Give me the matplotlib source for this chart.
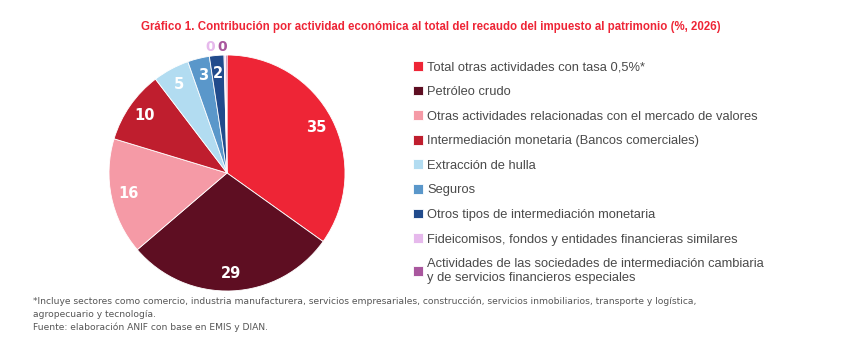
import numpy as np
import matplotlib.pyplot as plt

categories = [
    "Total otras actividades con tasa 0,5%*",
    "Petróleo crudo",
    "Otras actividades relacionadas con el mercado de valores",
    "Intermediación monetaria (Bancos comerciales)",
    "Extracción de hulla",
    "Seguros",
    "Otros tipos de intermediación monetaria",
    "Fideicomisos, fondos y entidades financieras similares",
    "Actividades de las sociedades de intermediación cambiaria\ny de servicios financieros especiales",
]
values = [35, 29, 16, 10, 5, 3, 2, 0.2, 0.2]
labels = ["35", "29", "16", "10", "5", "3", "2", "0", "0"]
colors = ["#EE2536", "#5E0E22", "#F59AA6", "#BF1E2E", "#B2DCF1",
          "#5A97CA", "#214B8C", "#E6B9EC", "#A9579E"]

W, H = 859, 350
fig = plt.figure(figsize=(W / 100, H / 100), dpi=100)

cx, cy, r = 227, 173, 118
ax = fig.add_axes([(cx - r) / W, (H - cy - r) / H, 2 * r / W, 2 * r / H])

wedges, _ = ax.pie(values, colors=colors, startangle=90, counterclock=False,
                   radius=1, wedgeprops=dict(edgecolor="white", linewidth=0.6))
ax.set_xlim(-1, 1)
ax.set_ylim(-1, 1)
ax.set_aspect("equal")
ax.axis("off")

# slice labels
for w, lab, val in zip(wedges, labels, values):
    if val < 1:
        continue
    ang = np.deg2rad((w.theta1 + w.theta2) / 2)
    d = 0.85
    ax.text(d * np.cos(ang), d * np.sin(ang), lab, ha="center", va="center",
            color="white", fontsize=10.5, fontweight="bold")

# tiny slices labelled above the pie
ax.text(-0.145, 1.07, labels[7], ha="center", va="center", color=colors[7],
        fontsize=10, fontweight="bold", clip_on=False)
ax.text(-0.04, 1.07, labels[8], ha="center", va="center", color=colors[8],
        fontsize=10, fontweight="bold", clip_on=False)

fig.legend(wedges, categories, loc="upper left",
           bbox_to_anchor=(413 / W, 1 - 61 / H), frameon=False,
           prop={"family": "Liberation Sans", "size": 9.3},
           handlelength=0.78, handleheight=0.78,
           handletextpad=0.32, labelspacing=0.95, borderpad=0,
           borderaxespad=0, labelcolor="#4a4a4a")

fig.text(431 / W, 1 - 27 / H,
         "Gráfico 1. Contribución por actividad económica al total del recaudo del impuesto al patrimonio (%, 2026)",
         ha="center", va="center", color="#EE2536", fontsize=8.3,
         fontweight="bold", family="Liberation Sans")

foot = ("*Incluye sectores como comercio, industria manufacturera, servicios empresariales, construcción, "
        "servicios inmobiliarios, transporte y logística,\nagropecuario y tecnología.\n"
        "Fuente: elaboración ANIF con base en EMIS y DIAN.")
fig.text(33 / W, 1 - 297 / H, foot, ha="left", va="top", color="#555555",
         fontsize=6.6, linespacing=1.45)

fig.savefig("out.png", dpi=100)
